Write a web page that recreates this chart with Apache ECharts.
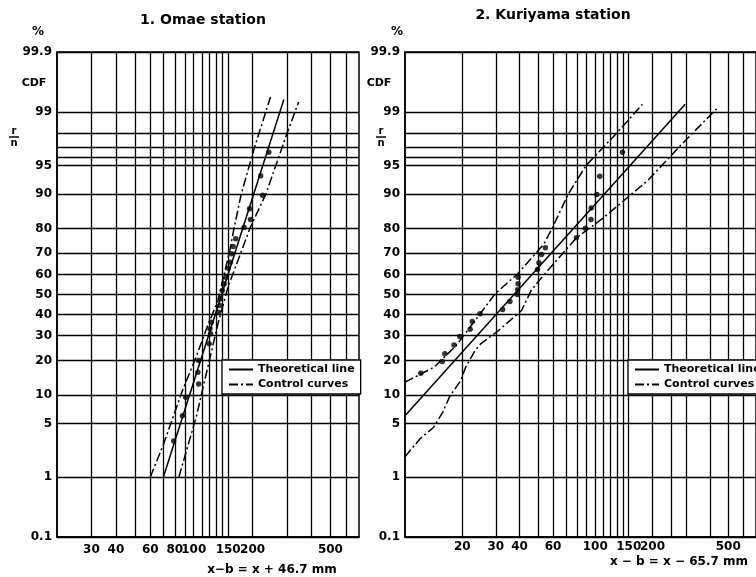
<!DOCTYPE html>
<html><head><meta charset="utf-8">
<script src="https://cdn.jsdelivr.net/npm/echarts@6/dist/echarts.min.js"></script>
<style>html,body{margin:0;padding:0;background:#fff}#c{width:756px;height:577px}</style>
</head><body><div id="c"></div>
<script>
// ---- probability (y) axis: grid lines and labels, in percent ----
const probGrid = [0.1, 1, 5, 10, 20, 30, 40, 50, 60, 70, 80, 90, 95, 96, 97, 98, 99, 99.9];
const probLabels = [0.1, 1, 5, 10, 20, 30, 40, 50, 60, 70, 80, 90, 95, 99, 99.9];

// ---- x axes (log scale) ----
const omaeXGrid = [30, 40, 50, 60, 70, 80, 90, 100, 110, 120, 130, 140, 150, 200, 300, 400, 500, 600];
const omaeXLabels = [30, 40, 60, 80, 100, 150, 200, 500];
const kuriXGrid = [20, 30, 40, 50, 60, 70, 80, 90, 100, 110, 120, 130, 140, 150, 200, 250, 300, 400, 500, 600];
const kuriXLabels = [20, 30, 40, 60, 100, 150, 200, 500];

// ---- 1. Omae station ----
const omaeObsX = [242, 220, 225, 193, 195, 181, 164, 159, 156, 154, 150, 146, 143, 140, 137, 136, 134, 123, 121, 122, 120, 106, 105, 106, 91, 87.5, 79];
const omaeObsP = [96.5, 93.5, 89.7, 86.3, 83.0, 80.3, 76.1, 73.0, 69.8, 66.0, 63.1, 58.7, 55.4, 52.0, 47.8, 44.4, 41.1, 36.2, 33.1, 30.8, 26.5, 20.0, 16.1, 12.7, 9.5, 6.1, 3.1];
const omaeTheoX = [70, 289];
const omaeTheoP = [1, 99.35];
const omaeUpperX = [60, 70, 87.5, 102, 117, 133, 153, 160, 175, 205, 247];
const omaeUpperP = [1, 2.8, 11, 20.6, 33.8, 47, 71.3, 79.3, 90, 97, 99.41];
const omaeLowerX = [84, 104, 110.6, 133, 150, 195, 234, 300, 344];
const omaeLowerP = [1, 6.4, 11, 35.4, 54, 80.5, 90, 98, 99.29];

// ---- 2. Kuriyama station ----
const kuriObsX = [12.1, 15.7, 16.2, 18.1, 19.4, 22.0, 22.6, 24.8, 32.6, 35.6, 38.9, 39.1, 39.3, 39.3, 49.7, 50.6, 52.2, 54.7, 79.6, 88.8, 95.0, 95.2, 102, 105.6, 139];
const kuriObsP = [15.8, 19.7, 22.5, 26.0, 29.6, 32.9, 36.5, 40.3, 42.4, 46.4, 50.0, 52.4, 55.4, 58.7, 62.5, 65.7, 69.5, 72.4, 76.5, 80.1, 83.0, 86.5, 89.9, 93.4, 96.5];
const kuriTheoX = [10, 297];
const kuriTheoP = [6.1, 99.23];
const kuriUpperX = [10, 14.2, 18.6, 29.8, 39.1, 53.8, 59.3, 72.2, 89.6, 127, 177];
const kuriUpperP = [13.2, 17.7, 25.8, 50.4, 60.4, 74.1, 80, 90, 95, 97.9, 99.23];
const kuriLowerX = [10, 12.0, 14.1, 15.8, 17.2, 19.6, 21, 23.4, 25, 31, 41, 46, 51.6, 79.6, 109, 189, 280, 434];
const kuriLowerP = [1.94, 3.3, 4.5, 6.7, 9.7, 13.6, 18.2, 23.8, 26.5, 32.3, 41.9, 52, 57.9, 76.5, 83.3, 92.7, 97.1, 99.1];

// inverse normal CDF (normal-probability paper scale)
function probit(p) {
  const a=[-3.969683028665376e+01,2.209460984245205e+02,-2.759285104469687e+02,1.383577518672690e+02,-3.066479806614716e+01,2.506628277459239e+00];
  const b=[-5.447609879822406e+01,1.615858368580409e+02,-1.556989798598866e+02,6.680131188771972e+01,-1.328068155288572e+01];
  const c=[-7.784894002430293e-03,-3.223964580411365e-01,-2.400758277161838e+00,-2.549732539343734e+00,4.374664141464968e+00,2.938163982698783e+00];
  const d=[7.784695709041462e-03,3.224671290700398e-01,2.445134137142996e+00,3.754408661907416e+00];
  const pl=0.02425, ph=1-pl; let q, r;
  if (p < pl) { q=Math.sqrt(-2*Math.log(p)); return (((((c[0]*q+c[1])*q+c[2])*q+c[3])*q+c[4])*q+c[5])/((((d[0]*q+d[1])*q+d[2])*q+d[3])*q+1); }
  if (p <= ph) { q=p-0.5; r=q*q; return (((((a[0]*r+a[1])*r+a[2])*r+a[3])*r+a[4])*r+a[5])*q/(((((b[0]*r+b[1])*r+b[2])*r+b[3])*r+b[4])*r+1); }
  q=Math.sqrt(-2*Math.log(1-p)); return -(((((c[0]*q+c[1])*q+c[2])*q+c[3])*q+c[4])*q+c[5])/((((d[0]*q+d[1])*q+d[2])*q+d[3])*q+1);
}
const zOf = p => probit(p / 100);
const zMin = zOf(0.1), zMax = zOf(99.9);
const gridZ = probGrid.map(zOf);
const labelZ = probLabels.map(zOf);
const pts = (xs, ps) => xs.map((x, i) => [x, zOf(ps[i])]);

const FONT = 'DejaVu Sans';
const dashDot = [9, 3, 2, 3];

function yLabel(v) {
  let best = 0, bd = 1e9;
  labelZ.forEach((z, i) => { const d = Math.abs(z - v); if (d < bd) { bd = d; best = i; } });
  return String(probLabels[best]);
}

function xAxisCfg(gi, min, max, gridVals, labelVals, margin) {
  return {
    type: 'log', logBase: 10, gridIndex: gi, min: min, max: max,
    axisLine: { show: true, onZero: false, lineStyle: { color: '#000', width: 1.5 } },
    axisTick: { show: false, customValues: gridVals },
    axisLabel: { customValues: labelVals, margin: margin, color: '#000', fontFamily: FONT, fontWeight: 'bold', fontSize: 12 },
    splitLine: { show: true, lineStyle: { color: '#000', width: 1.3 } },
    minorTick: { show: false }, minorSplitLine: { show: false }
  };
}
function yAxisCfg(gi) {
  return {
    type: 'value', gridIndex: gi, min: zMin, max: zMax,
    axisLine: { show: true, onZero: false, lineStyle: { color: '#000', width: 1.5 } },
    axisTick: { show: false, customValues: gridZ },
    axisLabel: { customValues: labelZ, formatter: yLabel, margin: 5, color: '#000', fontFamily: FONT, fontWeight: 'bold', fontSize: 12 },
    splitLine: { show: true, lineStyle: { color: '#000', width: 1.3 } }
  };
}
function panelSeries(gi, obsX, obsP, thX, thP, upX, upP, loX, loP) {
  const lw = 1.5;
  return [
    { type: 'line', name: 'Theoretical line', xAxisIndex: gi, yAxisIndex: gi, data: pts(thX, thP), symbol: 'none', lineStyle: { color: '#000', width: lw }, itemStyle: { color: '#000' }, z: 3 },
    { type: 'line', name: 'Control curves', xAxisIndex: gi, yAxisIndex: gi, data: pts(upX, upP), symbol: 'none', lineStyle: { color: '#000', width: lw, type: dashDot }, itemStyle: { color: '#000' }, z: 3 },
    { type: 'line', name: 'Control curves', xAxisIndex: gi, yAxisIndex: gi, data: pts(loX, loP), symbol: 'none', lineStyle: { color: '#000', width: lw, type: dashDot }, itemStyle: { color: '#000' }, z: 3 },
    { type: 'scatter', name: 'obs', xAxisIndex: gi, yAxisIndex: gi, data: pts(obsX, obsP), symbol: 'circle', symbolSize: 5.5, itemStyle: { color: '#000' }, z: 4 }
  ];
}
function legendCfg(left) {
  return {
    left: left, top: 360, orient: 'vertical', data: ['Theoretical line', 'Control curves'],
    backgroundColor: '#fff', borderColor: '#000', borderWidth: 1.3, padding: [4, 6, 4, 6],
    itemGap: 4, itemWidth: 24, itemHeight: 10, selectedMode: false,
    itemStyle: { opacity: 0 },
    textStyle: { color: '#000', fontFamily: FONT, fontWeight: 'bold', fontSize: 11 }, z: 10
  };
}
function txt(x, y, text, size, weight, align) {
  return { type: 'text', x: x, y: y, z: 20, style: { text: text, fill: '#000', font: (weight || 'bold') + ' ' + size + 'px "' + FONT + '"', textAlign: align || 'center', textVerticalAlign: 'middle', align: align || 'center', verticalAlign: 'middle' } };
}
function fracRN(cx, cy) {
  return [
    txt(cx, cy - 6, 'r', 10, 'bold'),
    { type: 'line', z: 20, shape: { x1: cx - 5, y1: cy, x2: cx + 5, y2: cy }, style: { stroke: '#000', lineWidth: 1.5 } },
    txt(cx, cy + 6, 'n', 10, 'bold')
  ];
}

const chart = echarts.init(document.getElementById('c'), null, { renderer: 'canvas' });
chart.setOption({
  animation: false,
  backgroundColor: '#fff',
  grid: [
    { left: 57, top: 52, width: 302, height: 485, show: true, borderColor: '#000', borderWidth: 1.5, containLabel: false },
    { left: 405, top: 52, width: 360, height: 485, show: true, borderColor: '#000', borderWidth: 1.5, containLabel: false }
  ],
  xAxis: [xAxisCfg(0, 20, 700, omaeXGrid, omaeXLabels, 7), xAxisCfg(1, 10, 700, kuriXGrid, kuriXLabels, 4)],
  yAxis: [yAxisCfg(0), yAxisCfg(1)],
  legend: [legendCfg(222), legendCfg(628)],
  series: [].concat(
    panelSeries(0, omaeObsX, omaeObsP, omaeTheoX, omaeTheoP, omaeUpperX, omaeUpperP, omaeLowerX, omaeLowerP),
    panelSeries(1, kuriObsX, kuriObsP, kuriTheoX, kuriTheoP, kuriUpperX, kuriUpperP, kuriLowerX, kuriLowerP)
  ),
  graphic: [
    txt(203, 20, '1. Omae station', 14, 'bold'),
    txt(553, 15, '2. Kuriyama station', 14, 'bold'),
    txt(38, 32, '%', 12, 'bold'),
    txt(397, 32, '%', 12, 'bold'),
    txt(34, 83, 'CDF', 11, 'bold'),
    txt(379, 83, 'CDF', 11, 'bold'),
    txt(272, 570, 'x\u2212b = x + 46.7 mm', 12, 'bold'),
    txt(679, 562, 'x \u2212 b = x \u2212 65.7 mm', 12, 'bold')
  ].concat(fracRN(14, 137), fracRN(381, 137))
});
</script>
</body></html>
